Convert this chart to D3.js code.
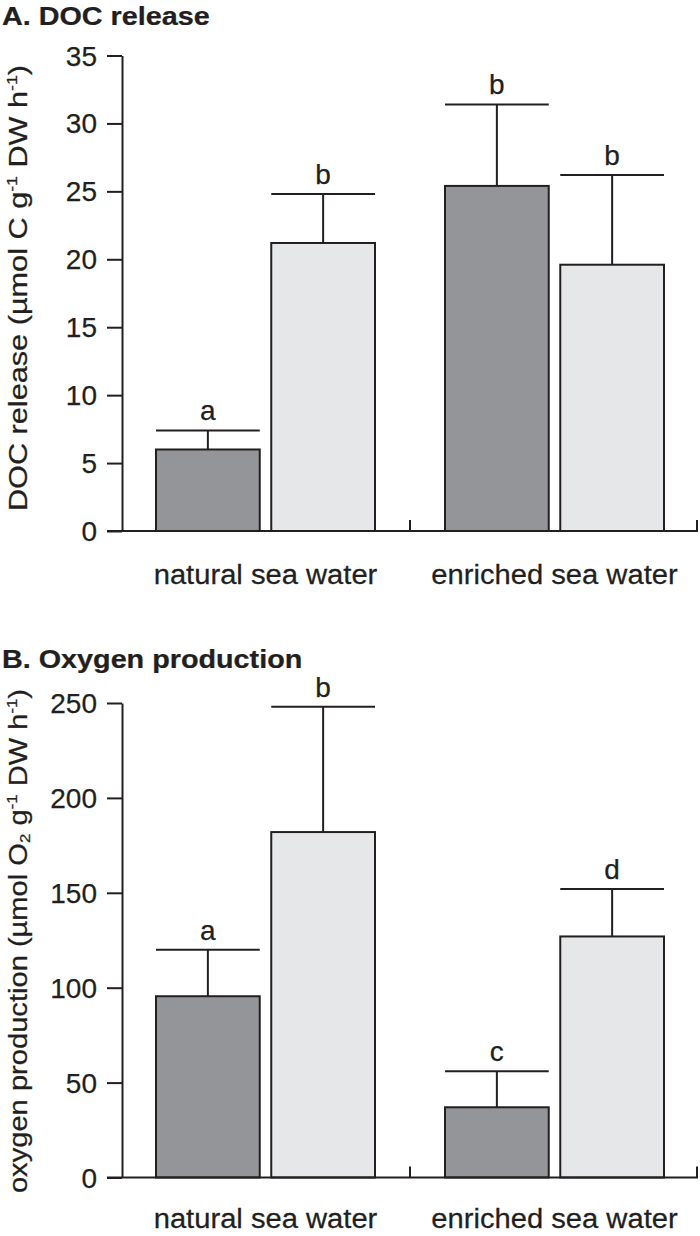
<!DOCTYPE html>
<html>
<head>
<meta charset="utf-8">
<script src="https://cdn.jsdelivr.net/npm/d3@7"></script>
<style>
  html, body { margin: 0; padding: 0; background: #fff; }
  svg { display: block; }
  text { font-family: "Liberation Sans", Arial, sans-serif; fill: #231f20; stroke: #231f20; stroke-width: 0.25px; }
</style>
</head>
<body>
<svg id="chart" width="700" height="1236"></svg>
<script>
// ---------- DATA ----------
const categories = ["natural sea water", "enriched sea water"];
const series = ["control", "treatment"];

// Panel A: DOC release (µmol C g-1 DW h-1)
const docDark = [6.0, 25.4];
const docLight = [21.2, 19.6];
const docDarkErr = [1.4, 6.0];
const docLightErr = [3.6, 6.6];
const docDarkLetters = ["a", "b"];
const docLightLetters = ["b", "b"];
const docTicks = [0, 5, 10, 15, 20, 25, 30, 35];

// Panel B: oxygen production (µmol O2 g-1 DW h-1)
const oxyDark = [95.5, 37];
const oxyLight = [182, 127];
const oxyDarkErr = [24.5, 19];
const oxyLightErr = [66, 25];
const oxyDarkLetters = ["a", "c"];
const oxyLightLetters = ["b", "d"];
const oxyTicks = [0, 50, 100, 150, 200, 250];

const colors = { control: "#939598", treatment: "#e6e7e8" };
const ink = "#231f20";

// ---------- DRAW ----------
const svg = d3.select("#chart");

function hText(g, x, y, str, size, anchor, weight, sx) {
  return g.append("text")
    .attr("transform", `translate(${x},${y}) scale(${sx || 1},1)`)
    .attr("text-anchor", anchor || "middle")
    .attr("font-size", size)
    .attr("font-weight", weight || "normal")
    .text(str);
}

function panel(opts) {
  const g = svg.append("g");
  const left = 122, right = 698;
  const y = d3.scaleLinear().domain(opts.domain).range([opts.y0, opts.y1]);
  const x0 = d3.scaleBand().domain(categories).range([left - 1, right + 1]).padding(0);
  const x1 = d3.scaleBand().domain(series).range([35, x0.bandwidth() - 35]).paddingInner(0.1);

  // title
  hText(g, 2, opts.titleY, opts.title, 25, "start", "bold", 1.15);

  const rows = [];
  categories.forEach((c, i) => {
    rows.push({ cat: c, ser: "control", v: opts.dark[i], e: opts.darkErr[i], l: opts.darkLetters[i] });
    rows.push({ cat: c, ser: "treatment", v: opts.light[i], e: opts.lightErr[i], l: opts.lightLetters[i] });
  });

  const bx = d => x0(d.cat) + x1(d.ser);
  const cx = d => bx(d) + x1.bandwidth() / 2;

  // error bars
  g.selectAll(".err").data(rows).join("line")
    .attr("x1", cx).attr("x2", cx)
    .attr("y1", d => y(d.v)).attr("y2", d => y(d.v + d.e))
    .attr("stroke", ink).attr("stroke-width", 2);
  g.selectAll(".cap").data(rows).join("line")
    .attr("x1", d => bx(d)).attr("x2", d => bx(d) + x1.bandwidth())
    .attr("y1", d => y(d.v + d.e)).attr("y2", d => y(d.v + d.e))
    .attr("stroke", ink).attr("stroke-width", 2);

  // bars
  g.selectAll(".bar").data(rows).join("rect")
    .attr("x", bx).attr("width", x1.bandwidth())
    .attr("y", d => y(d.v)).attr("height", d => y(0) - y(d.v))
    .attr("fill", d => colors[d.ser])
    .attr("stroke", ink).attr("stroke-width", 2);

  // letters
  rows.forEach(d => hText(g, cx(d), y(d.v + d.e) - 10, d.l, 28));

  // y axis
  const yAxis = d3.axisLeft(y).tickValues(opts.ticks).tickSize(15).tickSizeOuter(0);
  const ya = g.append("g").attr("transform", `translate(${left},0)`).call(yAxis);
  ya.select(".domain").attr("stroke", ink).attr("stroke-width", 2);
  ya.selectAll(".tick line").attr("stroke", ink).attr("stroke-width", 2);
  ya.selectAll(".tick text").remove();
  opts.ticks.forEach(t => hText(g, left - 25, y(t) + 10, String(t), 28, "end"));

  // x axis baseline with group separator ticks
  g.append("line").attr("x1", left - 15).attr("x2", right)
    .attr("y1", y(0)).attr("y2", y(0)).attr("stroke", ink).attr("stroke-width", 2);
  categories.forEach(c => {
    const xe = Math.min(x0(c) + x0.bandwidth(), right - 1);
    g.append("line").attr("x1", xe).attr("x2", xe)
      .attr("y1", y(0)).attr("y2", y(0) - 11).attr("stroke", ink).attr("stroke-width", 2);
  });
  categories.forEach(c => hText(g, x0(c) + x0.bandwidth() / 2, y(0) + opts.catDy, c, 27, "middle", "normal", 1.08));

  // y label
  const yl = g.append("text")
    .attr("transform", `translate(${opts.ylX},${opts.ylY}) rotate(-90) scale(${opts.ylSX},1)`)
    .attr("text-anchor", "middle").attr("font-size", 26);
  opts.ylabel(yl);
}

panel({
  title: "A. DOC release", titleY: 25,
  domain: [0, 35], y0: 531, y1: 55.5, ticks: docTicks,
  dark: docDark, light: docLight, darkErr: docDarkErr, lightErr: docLightErr,
  darkLetters: docDarkLetters, lightLetters: docLightLetters,
  catDy: 53, ylX: 27, ylY: 288, ylSX: 1.18,
  ylabel: t => {
    t.append("tspan").text("DOC release (µmol C g");
    t.append("tspan").attr("font-size", 15).attr("dy", -10).text("-1");
    t.append("tspan").attr("dy", 10).text(" DW h");
    t.append("tspan").attr("font-size", 15).attr("dy", -10).text("-1");
    t.append("tspan").attr("dy", 10).text(")");
  }
});

panel({
  title: "B. Oxygen production", titleY: 668,
  domain: [0, 250], y0: 1177.5, y1: 703, ticks: oxyTicks,
  dark: oxyDark, light: oxyLight, darkErr: oxyDarkErr, lightErr: oxyLightErr,
  darkLetters: oxyDarkLetters, lightLetters: oxyLightLetters,
  catDy: 50, ylX: 27, ylY: 941, ylSX: 1.12,
  ylabel: t => {
    t.append("tspan").text("oxygen production (µmol O");
    t.append("tspan").attr("font-size", 15).attr("dy", 3).text("2");
    t.append("tspan").attr("dy", -3).text(" g");
    t.append("tspan").attr("font-size", 15).attr("dy", -10).text("-1");
    t.append("tspan").attr("dy", 10).text(" DW h");
    t.append("tspan").attr("font-size", 15).attr("dy", -10).text("-1");
    t.append("tspan").attr("dy", 10).text(")");
  }
});
</script>
</body>
</html>
